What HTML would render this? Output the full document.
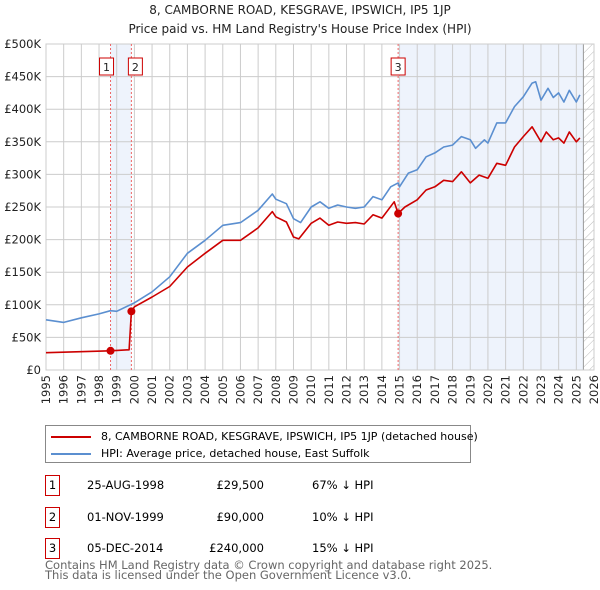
<!DOCTYPE html>
<html><head><meta charset="utf-8"><style>
body{margin:0;width:600px;height:590px;background:#fff;font-family:"DejaVu Sans","Liberation Sans",sans-serif;overflow:hidden;position:relative}
.t{position:absolute;white-space:nowrap}
</style></head><body>
<div class="t" style="left:0;width:600px;text-align:center;top:3px;font-size:12px;color:#222">8, CAMBORNE ROAD, KESGRAVE, IPSWICH, IP5 1JP</div>
<div class="t" style="left:0;width:600px;text-align:center;top:22px;font-size:12px;color:#222">Price paid vs. HM Land Registry's House Price Index (HPI)</div>
<svg id="chart" width="600" height="410" style="position:absolute;left:0;top:0" font-family="DejaVu Sans, Liberation Sans, sans-serif">
<defs><pattern id="hatch" width="6" height="6" patternUnits="userSpaceOnUse" patternTransform="rotate(45)"><line x1="0" y1="0" x2="0" y2="6" stroke="#bbb" stroke-width="1"/></pattern></defs>
<g id="grid"></g><g id="marks"></g>
</svg>
<div style="position:absolute;left:45px;top:425px;width:424px;height:36px;border:1px solid #888">
<div style="position:absolute;left:5px;top:4px;font-size:11px;white-space:nowrap"><span style="display:inline-block;width:40px;height:2px;background:#cc0000;vertical-align:middle;margin-right:10px"></span>8, CAMBORNE ROAD, KESGRAVE, IPSWICH, IP5 1JP (detached house)</div>
<div style="position:absolute;left:5px;top:21px;font-size:11px;white-space:nowrap"><span style="display:inline-block;width:40px;height:2px;background:#5b8fd0;vertical-align:middle;margin-right:10px"></span>HPI: Average price, detached house, East Suffolk</div>
</div>
<div id="table"></div>
<div class="t" style="left:45px;top:560px;font-size:11.5px;color:#666;line-height:10px">Contains HM Land Registry data © Crown copyright and database right 2025.<br>This data is licensed under the Open Government Licence v3.0.</div>
<script>
const hpiYears=[1995,1996,1997,1998,1998.65,1999,2000,2001,2002,2003,2004,2005,2006,2007,2007.8,2008,2008.6,2009,2009.4,2010,2010.5,2011,2011.5,2012,2012.5,2013,2013.5,2014,2014.5,2014.92,2015,2015.5,2016,2016.5,2017,2017.5,2018,2018.5,2019,2019.3,2019.8,2020,2020.5,2021,2021.5,2022,2022.5,2022.7,2023,2023.4,2023.7,2024,2024.3,2024.6,2025,2025.2];
const hpiValues=[77,73,80,86,91,90,103,120,143,179,199,222,226,245,270,262,255,232,226,250,258,248,253,250,248,250,266,261,281,287,281,302,307,327,333,342,345,358,353,340,353,348,379,379,404,419,440,442,414,432,418,425,411,429,411,422];
const ppYears=[1995,1998.65,1999.7,1999.83,2000,2001,2002,2003,2004,2005,2006,2007,2007.8,2008,2008.6,2009,2009.3,2010,2010.5,2011,2011.5,2012,2012.5,2013,2013.5,2014,2014.7,2014.92,2015.3,2016,2016.5,2017,2017.5,2018,2018.5,2019,2019.5,2020,2020.5,2021,2021.5,2022,2022.5,2023,2023.3,2023.7,2024,2024.3,2024.6,2025,2025.2];
const ppValues=[26.5,29.5,31,90,97,112,128,158,179,199,199,218,243,235,227,204,201,225,233,222,227,225,226,224,238,233,258,240,250,261,276,281,291,289,304,287,299,294,317,314,342,358,373,350,365,353,356,348,365,350,356];
const saleLabels=["1","2","3"];
const saleYears=[1998.65,1999.83,2014.92];
const saleValues=[29.5,90,240];
const saleDates=["25-AUG-1998","01-NOV-1999","05-DEC-2014"];
const salePrices=["£29,500","£90,000","£240,000"];
const saleDiffs=["67% ↓ HPI","10% ↓ HPI","15% ↓ HPI"];
const yTicks=[0,50,100,150,200,250,300,350,400,450,500];
const yTickLabels=["£0","£50K","£100K","£150K","£200K","£250K","£300K","£350K","£400K","£450K","£500K"];
const xTicks=[1995,1996,1997,1998,1999,2000,2001,2002,2003,2004,2005,2006,2007,2008,2009,2010,2011,2012,2013,2014,2015,2016,2017,2018,2019,2020,2021,2022,2023,2024,2025,2026];
const dataEnd=2025.4;
const X0=46,X1=594,Y0=370,Y1=44;
const xs=y=>X0+(y-1995)*(X1-X0)/31;
const ys=v=>Y0-v*(Y0-Y1)/500;
const NS="http://www.w3.org/2000/svg";
function mk(tag,attrs,parent){const e=document.createElementNS(NS,tag);for(const k in attrs)e.setAttribute(k,attrs[k]);parent.appendChild(e);return e;}
const grid=document.getElementById('grid'),marks=document.getElementById('marks');
let r=mk('rect',{x:xs(saleYears[0]),y:Y1,width:xs(saleYears[1])-xs(saleYears[0]),height:Y0-Y1,fill:'#eef3fc'},grid);

r=mk('rect',{x:xs(saleYears[2]),y:Y1,width:xs(dataEnd)-xs(saleYears[2]),height:Y0-Y1,fill:'#eef3fc'},grid);

r=mk('rect',{x:xs(dataEnd),y:Y1,width:X1-xs(dataEnd),height:Y0-Y1,fill:'url(#hatch)'},grid);

yTicks.forEach((v,i)=>{
 const l=mk('line',{x1:X0,x2:X1,y1:ys(v),y2:ys(v),stroke:'#ccc','stroke-width':1},grid);
 
 const t=mk('text',{x:X0-5,y:ys(v)+4,'text-anchor':'end','font-size':'11.5',fill:'#222'},grid);
 t.textContent=yTickLabels[i];
 
});
xTicks.forEach(y=>{
 const l=mk('line',{x1:xs(y),x2:xs(y),y1:Y1,y2:Y0,stroke:'#ccc','stroke-width':1},grid);
 
 const tx=xs(y)+4,ty=Y0+5;
 const t=mk('text',{x:tx,y:ty,'text-anchor':'end','font-size':'11.5',fill:'#222',transform:'rotate(-90 '+tx+' '+ty+')'},grid);
 t.textContent=y;
 
});
r=mk('line',{x1:xs(dataEnd),x2:xs(dataEnd),y1:Y1,y2:Y0,stroke:'#999','stroke-width':1},grid);

r=mk('rect',{x:X0,y:Y1,width:X1-X0,height:Y0-Y1,fill:'none',stroke:'#ccc'},grid);

saleYears.forEach((y,i)=>{
 const l=mk('line',{x1:xs(y),x2:xs(y),y1:Y1,y2:Y0,stroke:'#e66','stroke-width':1,'stroke-dasharray':'2,2'},marks);
 
 const off=i==0?-4:(i==1?4:0);
 const b=mk('rect',{x:xs(y)+off-7,y:58,width:14,height:17,fill:'#fff',stroke:'#cc0000'},marks);
 
 const t=mk('text',{x:xs(y)+off,y:71,'text-anchor':'middle','font-size':'11',fill:'#222'},marks);
 t.textContent=saleLabels[i];
 
});
function line(xsArr,vArr,color,name){
 const d=xsArr.map((y,i)=>(i?'L':'M')+xs(y).toFixed(1)+','+ys(vArr[i]).toFixed(1)).join('');
 const p=mk('path',{d:d,fill:'none',stroke:color,'stroke-width':1.6,'stroke-linejoin':'round'},marks);
 
}
line(hpiYears,hpiValues,'#5b8fd0','hpi-line');
line(ppYears,ppValues,'#cc0000','price-paid-line');
saleYears.forEach((y,i)=>{
 const c=mk('circle',{cx:xs(y),cy:ys(saleValues[i]),r:4,fill:'#cc0000'},marks);
 
});
const tbl=document.getElementById('table');
const rowY=[475,507,538];
saleLabels.forEach((lab,i)=>{
 const row=document.createElement('div');
 
 
 row.style.cssText='position:absolute;left:0;top:'+rowY[i]+'px;width:600px;height:20px;font-size:11.5px';
 row.innerHTML='<div style="position:absolute;left:45px;top:0;width:13px;height:19px;border:1px solid #cc0000;text-align:center;line-height:18px">'+lab+'</div>'+
 '<div style="position:absolute;left:87px;top:3px">'+saleDates[i]+'</div>'+
 '<div style="position:absolute;right:336px;top:3px">'+salePrices[i]+'</div>'+
 '<div style="position:absolute;left:312px;top:3px">'+saleDiffs[i]+'</div>';
 tbl.appendChild(row);
});
</script>
</body></html>
